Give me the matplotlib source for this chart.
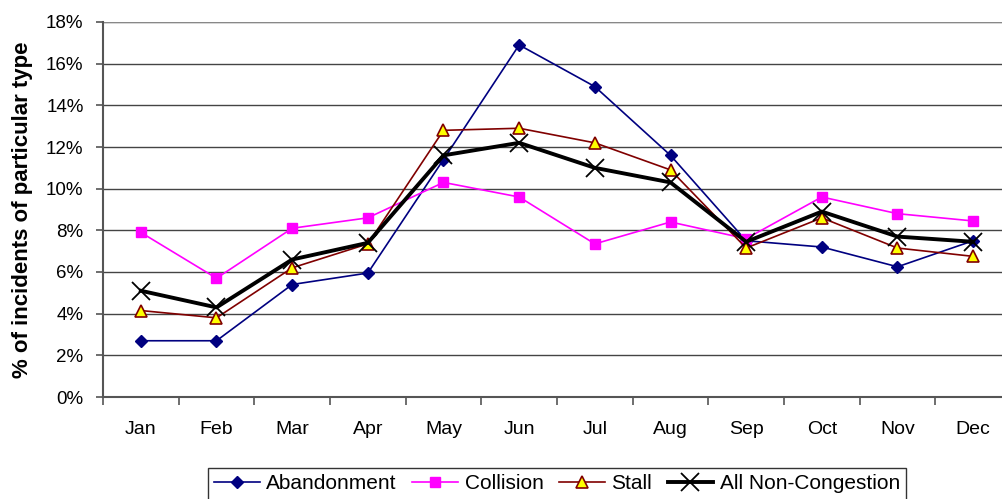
import matplotlib
matplotlib.use("Agg")
import matplotlib.pyplot as plt
from matplotlib.ticker import FuncFormatter, MultipleLocator

plt.rcParams['font.family'] = ['Liberation Sans', 'DejaVu Sans']

months = ["Jan", "Feb", "Mar", "Apr", "May", "Jun", "Jul", "Aug", "Sep", "Oct", "Nov", "Dec"]
abandonment = [2.7, 2.7, 5.4, 5.95, 11.4, 16.9, 14.9, 11.6, 7.5, 7.2, 6.25, 7.5]
collision = [7.9, 5.7, 8.1, 8.6, 10.3, 9.6, 7.35, 8.4, 7.6, 9.6, 8.8, 8.45]
stall = [4.15, 3.8, 6.2, 7.35, 12.8, 12.9, 12.2, 10.9, 7.15, 8.6, 7.15, 6.75]
all_nc = [5.1, 4.3, 6.6, 7.4, 11.6, 12.2, 11.0, 10.3, 7.45, 8.9, 7.7, 7.45]

W, H = 1002, 499
fig = plt.figure(figsize=(W / 100, H / 100), dpi=100)
ax = fig.add_axes([103 / W, (H - 397) / H, 908 / W, 375 / H])

x = list(range(len(months)))
ax.plot(x, abandonment, color="#000080", lw=1.2, marker="D", ms=6,
        mfc="#000080", mec="#000080", label="Abandonment", zorder=3)
ax.plot(x, collision, color="#FF00FF", lw=1.2, marker="s", ms=7,
        mfc="#FF00FF", mec="#FF00FF", label="Collision", zorder=3)
ax.plot(x, stall, color="#800000", lw=1.2, marker="^", ms=8,
        mfc="#FFFF00", mec="#800000", mew=1.2, label="Stall", zorder=3)
ax.plot(x, all_nc, color="black", lw=2.8, marker="x", ms=13, mew=1.3,
        mfc="black", mec="black", label="All Non-Congestion", zorder=4)

ax.set_xlim(-0.5, len(months) - 0.5)
ax.set_ylim(0, 18)
ax.yaxis.set_major_locator(MultipleLocator(2))
ax.yaxis.set_major_formatter(FuncFormatter(lambda v, p: f"{v:.0f}%"))
ax.set_xticks(x)
ax.set_xticklabels(months)
ax.set_xticks([i + 0.5 for i in range(-1, len(months))], minor=True)
ax.tick_params(axis="x", which="major", length=0, pad=17, labelsize=14)
ax.tick_params(axis="x", which="minor", length=6, color="#555555", width=1.2)
ax.tick_params(axis="y", length=5, color="#555555", width=1.2, labelsize=13.5, pad=9)

ax.grid(axis="y", color="#444444", lw=1.0)
ax.set_axisbelow(True)
for s in ["top", "right"]:
    ax.spines[s].set_visible(False)
ax.spines["left"].set_color("#555555")
ax.spines["left"].set_linewidth(1.5)
ax.spines["bottom"].set_color("#555555")
ax.spines["bottom"].set_linewidth(1.5)
ax.axhline(18, color="#888888", lw=1.5, zorder=1)

ax.set_ylabel("% of incidents of particular type", fontsize=16, fontweight="bold")
ax.yaxis.set_label_coords(-0.077, 0.5)

leg = fig.legend(loc="upper left", bbox_to_anchor=(208 / W, (H - 468) / H), ncol=4,
                 frameon=True, fancybox=False, fontsize=15, handlelength=2.2,
                 handletextpad=0.3, columnspacing=0.75, borderpad=0.3,
                 borderaxespad=0)
leg.get_frame().set_edgecolor("black")
leg.get_frame().set_linewidth(1.0)

fig.savefig("out.png", dpi=100)
